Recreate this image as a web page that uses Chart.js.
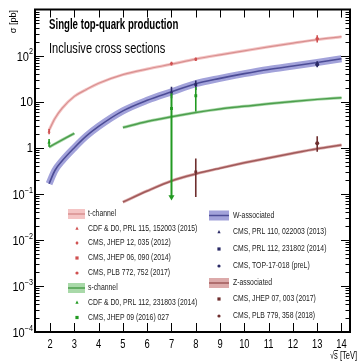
<!DOCTYPE html>
<html><head><meta charset="utf-8">
<script src="https://cdn.jsdelivr.net/npm/chart.js@4"></script>
<style>html,body{margin:0;padding:0;background:#fff;overflow:hidden}canvas{display:block}</style>
</head><body>
<canvas id="c" width="358" height="363"></canvas>
<script>
// ---------- data ----------
const xTickValues = [2,3,4,5,6,7,8,9,10,11,12,13,14];
const yDecades = [-4,-3,-2,-1,0,1,2];

// theory curves
const tchX = [1.96,2.2,2.5,3,3.5,4,5,6,7,8,9,10,11,12,13,14];
const tchY = [2.4,4.3,7.2,13,18.4,25,38.5,51,65,84,104,127,155,186,222,257];
const twX  = [1.96,2.2,2.5,3,3.5,4,5,6,7,8,9,10,11,12,13,14];
const twY  = [0.165,0.32,0.52,1.0,1.8,2.9,6.3,10.7,16.3,24.5,32,40.5,50,59.5,71,85];
const schTevX = [1.96,2.5,3.0];
const schTevY = [1.03,1.48,2.05];
const schLhcX = [5,6,7,8,9,10,11,12,13,14];
const schLhcY = [2.75,3.7,4.7,5.8,6.9,7.9,9.0,10.1,11.2,12.2];
const tzqX = [5,6,7,8,9,10,11,12,13,14];
const tzqY = [0.066,0.115,0.19,0.27,0.36,0.47,0.6,0.76,0.95,1.15];

// measurements
const tchLabels = ["CDF & D0, PRL 115, 152003 (2015)","CMS, JHEP 12, 035 (2012)","CMS, JHEP 06, 090 (2014)","CMS, PLB 772, 752 (2017)"];
const tchMX  = [1.96,7,8,13];
const tchMY  = [2.25,67.2,83.6,232];
const tchMLo = [0.3,6.1,7.7,40];
const tchMHi = [0.3,6.1,7.7,45];

const schLabels = ["CDF & D0, PRL 112, 231803 (2014)","CMS, JHEP 09 (2016) 027"];
const schMX  = [1.96,7,8];
const schMY  = [1.29,7.1,13.4];
const schMLo = [0.24,7.015,7.3];
const schMHi = [0.26,8.1,7.3];
const schMArrow = [false,true,false];

const twLabels = ["CMS, PRL 110, 022003 (2013)","CMS, PRL 112, 231802 (2014)","CMS, TOP-17-018 (preL)"];
const twMX  = [7,8,13];
const twMY  = [16,23.4,64];
const twMLo = [4.2,5.4,8];
const twMHi = [5,5.4,11];

const tzqLabels = ["CMS, JHEP 07, 003 (2017)","CMS, PLB 779, 358 (2018)"];
const tzqMX  = [8,13];
const tzqMY  = [0.30,1.25];
const tzqMLo = [0.215,0.43];
const tzqMHi = [0.28,0.53];

// ---------- styles ----------
const C = {
  tBand:'#f4c4c4', tLine:'#d89090', tMark:'#d05050',
  sBand:'#a9d9a9', sLine:'#4d9e4d', sMark:'#229a22',
  wBand:'#a2a2da', wLine:'#4c4c96', wMark:'#2a2a66',
  zBand:'#dcaaaa', zLine:'#a05a5a', zMark:'#6e2e2e'
};
const F = '"Liberation Sans",Arial,sans-serif';

const pts = (xs,ys)=>xs.map((v,i)=>({x:v,y:ys[i]}));
const curve = (xs,ys,color,w,order)=>({type:'line',data:pts(xs,ys),borderColor:color,borderWidth:w,pointRadius:0,
  cubicInterpolationMode:'monotone',fill:false,order:order});

const datasets = [];
datasets.push(curve(twX,twY,C.wBand,7,20));
datasets.push(curve(tchX,tchY,C.tBand,3,20));
datasets.push(curve(schTevX,schTevY,C.sBand,3,20));
datasets.push(curve(schLhcX,schLhcY,C.sBand,3,20));
datasets.push(curve(tzqX,tzqY,C.zBand,3,20));
datasets.push(curve(twX,twY,C.wLine,1.6,10));
datasets.push(curve(tchX,tchY,C.tLine,1.2,10));
datasets.push(curve(schTevX,schTevY,C.sLine,1.5,10));
datasets.push(curve(schLhcX,schLhcY,C.sLine,1.5,10));
datasets.push(curve(tzqX,tzqY,C.zLine,1.6,10));

function errBars(xs,ys,lo,hi,color,arrow){
  xs.forEach((xv,i)=>{
    const a = arrow && arrow[i];
    datasets.push({type:'line',data:[{x:xv,y:ys[i]-lo[i]},{x:xv,y:ys[i]+hi[i]}],borderColor:color,backgroundColor:color,
      borderWidth:a?2:1.6,pointRadius:a?[3.5,0]:0,pointStyle:'triangle',rotation:180,pointBorderWidth:0,order:5});
  });
}
errBars(tchMX,tchMY,tchMLo,tchMHi,C.tMark);
errBars(schMX,schMY,schMLo,schMHi,C.sMark,schMArrow);
errBars(twMX,twMY,twMLo,twMHi,C.wMark);
errBars(tzqMX,tzqMY,tzqMLo,tzqMHi,C.zMark);

const tchStyles = ['triangle','rectRot','rect','circle'];
const schStyles = ['triangle','rect'];
const twStyles  = ['triangle','rect','circle'];
const tzqStyles = ['rect','circle'];
function markers(xs,ys,styles,color,size){
  xs.forEach((xv,i)=>{
    datasets.push({type:'scatter',data:[{x:xv,y:ys[i]}],pointStyle:styles[i],pointRadius:size,
      backgroundColor:color,borderColor:color,borderWidth:0,order:1});
  });
}
markers(tchMX,tchMY,tchStyles,C.tMark,1.8);
markers(schMX,schMY,[schStyles[0],schStyles[1],schStyles[1]],C.sMark,2);
markers(twMX,twMY,twStyles,C.wMark,2);
markers(tzqMX,tzqMY,tzqStyles,C.zMark,2);

// ---------- decoration plugin ----------
function ln(ctx,x1,y1,x2,y2){ctx.beginPath();ctx.moveTo(x1,y1);ctx.lineTo(x2,y2);ctx.stroke();}
function txt(ctx,s,x,y,font,align,sc){
  ctx.save();ctx.font=font;ctx.translate(x,y);ctx.scale(sc,1);ctx.textAlign=align;ctx.textBaseline='middle';
  ctx.fillText(s,0,0);ctx.restore();
}
function drawMark(ctx,style,x,y,r,color){
  ctx.save();ctx.fillStyle=color;ctx.beginPath();
  if(style==='rect'){ctx.fillRect(x-r,y-r,2*r,2*r);}
  else if(style==='circle'){ctx.arc(x,y,r,0,Math.PI*2);ctx.fill();}
  else if(style==='triangle'){ctx.moveTo(x,y-r*1.2);ctx.lineTo(x+r,y+r*0.8);ctx.lineTo(x-r,y+r*0.8);ctx.closePath();ctx.fill();}
  else {ctx.moveTo(x,y-r*1.3);ctx.lineTo(x+r,y);ctx.lineTo(x,y+r*1.3);ctx.lineTo(x-r,y);ctx.closePath();ctx.fill();}
  ctx.restore();
}
const deco = {
  id:'deco',
  afterDraw(chart){
    const ctx=chart.ctx, a=chart.chartArea, sx=chart.scales.x, sy=chart.scales.y;
    ctx.save();
    ctx.strokeStyle='#000';
    ctx.lineWidth=2;
    ctx.strokeRect(a.left,a.top,a.right-a.left,a.bottom-a.top);
    ctx.lineWidth=1;
    xTickValues.forEach(v=>{
      const px=Math.round(sx.getPixelForValue(v))+0.5;
      ln(ctx,px,a.bottom,px,a.bottom-9);
      ln(ctx,px,a.top,px,a.top+8);
    });
    for(let e=-4;e<=2;e++){
      for(let m=1;m<=9;m++){
        const py=Math.round(sy.getPixelForValue(m*Math.pow(10,e)))+0.5;
        const L=(m===1)?9:4.5;
        ln(ctx,a.left,py,a.left+L,py);
        ln(ctx,a.right,py,a.right-L,py);
      }
    }
    ctx.fillStyle='#000';
    xTickValues.forEach(v=>txt(ctx,String(v),sx.getPixelForValue(v),a.bottom+12,'13px '+F,'center',0.72));
    yDecades.forEach(e=>{
      const py=sy.getPixelForValue(Math.pow(10,e));
      const xr=a.left-2;
      if(e===0){txt(ctx,'1',xr,py+1,'13px '+F,'right',0.85);}
      else if(e===1){txt(ctx,'10',xr,py+1,'13px '+F,'right',0.9);}
      else{
        const sup=String(e).replace('-','\u2212');
        ctx.font='8.5px '+F;const w=ctx.measureText(sup).width*0.85;
        txt(ctx,sup,xr,py-3.5,'8.5px '+F,'right',0.85);
        txt(ctx,'10',xr-w,py+1.5,'13px '+F,'right',0.85);
      }
    });
    // axis titles
    ctx.save();ctx.translate(13.5,10);ctx.rotate(-Math.PI/2);
    txt(ctx,'\u03c3 [pb]',0,0,'9.5px '+F,'right',0.95);ctx.restore();
    txt(ctx,'\u221As [TeV]',357,356,'10px '+F,'right',0.75);
    ctx.font='10px '+F;
    const wS=ctx.measureText('s [TeV]').width*0.75, wAll=ctx.measureText('\u221As [TeV]').width*0.75;
    ctx.lineWidth=0.8;ln(ctx,357-wAll+4,350.5,357-wS+4,350.5);
    // title
    txt(ctx,'Single top-quark production',49,25,'bold 14px '+F,'left',0.69);
    txt(ctx,'Inclusive cross sections',49,49,'14px '+F,'left',0.79);
    // legend
    const LF='9px '+F, LS=0.76;
    function swatch(x,y,w,h,band,line){
      ctx.fillStyle=band;ctx.fillRect(x,y-h/2,w,h);
      ctx.strokeStyle=line;ctx.lineWidth=1.5;ln(ctx,x,y,x+w,y);
      ctx.fillStyle='#222';
    }
    const lx=88, lm=77;
    swatch(68,214,17,10,C.tBand,C.tLine);txt(ctx,'t-channel',lx,214,LF,'left',LS);
    const ly=[228.5,243,258,273];
    tchLabels.forEach((t,i)=>{drawMark(ctx,tchStyles[i],lm,ly[i],1.6,C.tMark);ctx.fillStyle='#222';txt(ctx,t,lx,ly[i],LF,'left',LS);});
    swatch(68,288,17,10,C.sBand,C.sLine);txt(ctx,'s-channel',lx,288,LF,'left',LS);
    const ly2=[302.5,317.5];
    schLabels.forEach((t,i)=>{drawMark(ctx,schStyles[i],lm,ly2[i],1.6,C.sMark);ctx.fillStyle='#222';txt(ctx,t,lx,ly2[i],LF,'left',LS);});
    const rx=233, rm=219;
    swatch(209,215.5,20,10,C.wBand,C.wLine);txt(ctx,'W-associated',rx,215.5,LF,'left',LS);
    const ry=[232,249,266];
    twLabels.forEach((t,i)=>{drawMark(ctx,twStyles[i],rm,ry[i],1.6,C.wMark);ctx.fillStyle='#222';txt(ctx,t,rx,ry[i],LF,'left',LS);});
    swatch(209,283,20,10,C.zBand,C.zLine);txt(ctx,'Z-associated',rx,283,LF,'left',LS);
    const ry2=[299,316];
    tzqLabels.forEach((t,i)=>{drawMark(ctx,tzqStyles[i],rm,ry2[i],1.6,C.zMark);ctx.fillStyle='#222';txt(ctx,t,rx,ry2[i],LF,'left',LS);});
    ctx.restore();
  }
};

new Chart(document.getElementById('c'),{
  data:{datasets:datasets},
  options:{
    responsive:false,animation:false,devicePixelRatio:1,
    layout:{padding:{left:35,top:9.5,right:8,bottom:31}},
    plugins:{legend:{display:false},tooltip:{enabled:false}},
    scales:{
      x:{type:'linear',min:1.38,max:14.35,display:false},
      y:{type:'logarithmic',min:1e-4,max:1e3,display:false}
    }
  },
  plugins:[deco]
});
</script>
</body></html>
